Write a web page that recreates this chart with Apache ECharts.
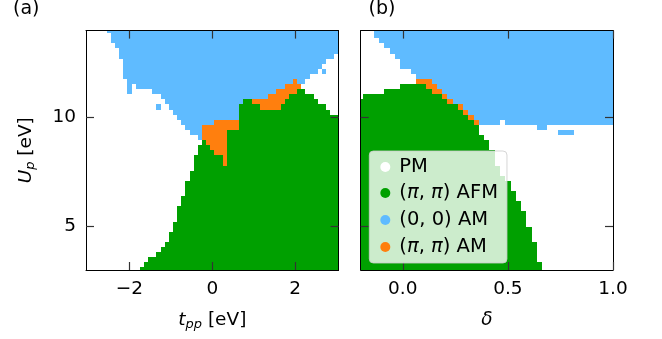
<!DOCTYPE html>
<html>
<head>
<meta charset="utf-8">
<script src="https://cdn.jsdelivr.net/npm/echarts@6/dist/echarts.min.js"></script>
<style>html,body{margin:0;padding:0;background:#fff}#c{width:662px;height:339px}</style>
</head>
<body>
<div id="c"></div>
<script>
// ---- grid definitions ----
const tppStart = -3.0, tppStep = 0.1;          // panel (a) columns: t_pp = -3.0 ... 3.0 (61)
const deltaStart = -0.2, deltaStep = 0.025;    // panel (b) columns: delta = -0.2 ... 1.0 (49)
const upStart = 3.0, upEnd = 14.0, upCount = 48; // rows: U_p from 3 to 14 (48 rows)

// ---- tick labels ----
const tppTicks = [-2, 0, 2];
const deltaTicks = [0, 0.5, 1.0];
const upTicks = [5, 10];

// ---- phases ----
const phaseKeys = ['W', 'G', 'B', 'O'];
const phaseNames = { W: 'PM', G: '(π, π) AFM', B: '(0, 0) AM', O: '(π, π) AM' };
const phaseColors = { W: '#ffffff', G: '#00a000', B: '#5fbbff', O: '#ff7f0e' };

// ---- phase maps: one string per U_p row, bottom (U_p=3) to top (U_p=14),
//      run-length encoded: phase letter + number of grid columns ----
const phaseA = [
  'W13 G48', 'W14 G47', 'W15 G46', 'W17 G44', 'W18 G43', 'W19 G42',
  'W20 G41', 'W20 G41', 'W21 G40', 'W21 G40', 'W22 G39', 'W22 G39',
  'W22 G39', 'W23 G38', 'W23 G38', 'W24 G37', 'W24 G37', 'W24 G37',
  'W25 G36', 'W25 G36', 'W26 G35',
  'W26 G7 O1 G27', 'W26 G7 O1 G27', 'W27 G4 O3 G27', 'W27 G3 O4 G27',
  'W28 G1 O5 G27', 'W27 B1 O6 G27', 'W25 B3 O6 G27', 'W24 B4 O9 G24',
  'W23 B8 O6 G24', 'W22 B15 G24', 'W21 B16 G22 W2',
  'W17 B1 W2 B17 G5 O5 G11 W3', 'W19 B19 G2 O8 G8 W5', 'W18 B26 O5 G6 W6',
  'W10 B1 W5 B30 O5 G2 W8', 'W10 B1 W1 B36 O4 W9', 'W10 B40 O1 B2 W8',
  'W9 B45 W7', 'W9 B47 W1 B1 W3', 'W9 B48 W4', 'W9 B49 W3', 'W8 B52 W1',
  'W8 B53', 'W7 B54', 'W6 B55', 'W6 B55', 'W5 B56'
];
const phaseB = [
  'G35 W14', 'G35 W14', 'G34 W15', 'G34 W15', 'G34 W15', 'G34 W15',
  'G33 W16', 'G33 W16', 'G33 W16', 'G32 W17', 'G32 W17', 'G32 W17',
  'G31 W18', 'G31 W18', 'G30 W19', 'G30 W19', 'G29 W20', 'G29 W20',
  'G28 W21', 'G27 W22', 'G27 W22', 'G26 W23', 'G26 W23', 'G26 W23',
  'G25 W24', 'G25 W24', 'G24 W25',
  'G23 W15 B3 W8', 'G23 W11 B2 W13', 'G22 O1 B4 W1 B21',
  'G21 O1 B27', 'G20 O1 B28', 'G19 O1 B29', 'G17 O1 B31',
  'W1 G15 O1 B32', 'W5 G9 O2 B33', 'W8 G5 O2 B34', 'W11 O3 B35',
  'W11 B38', 'W10 B39', 'W8 B41', 'W8 B41', 'W7 B42', 'W6 B43',
  'W5 B44', 'W4 B45', 'W3 B46', 'W3 B46'
];

const FONT = 'DejaVu Sans';
const upStep = (upEnd - upStart) / (upCount - 1);

function parseRows(rows, start, step) {
  const out = { W: [], G: [], B: [], O: [] };
  rows.forEach(function (row, k) {
    const u = upStart + upStep * k;
    let col = 0;
    row.split(' ').forEach(function (tok) {
      const ph = tok[0], n = parseInt(tok.slice(1), 10);
      out[ph].push([start + step * col, start + step * (col + n - 1), u]);
      col += n;
    });
  });
  return out;
}
const cellsA = parseRows(phaseA, tppStart, tppStep);
const cellsB = parseRows(phaseB, deltaStart, deltaStep);

function cellRenderer(step) {
  return function (params, api) {
    const cs = params.coordSys;
    const p = api.coord([api.value(0) - step / 2, api.value(2) + upStep / 2]);
    const q = api.coord([api.value(1) + step / 2, api.value(2) - upStep / 2]);
    let x0 = Math.max(Math.min(p[0], q[0]), cs.x);
    let x1 = Math.min(Math.max(p[0], q[0]), cs.x + cs.width);
    let y0 = Math.max(Math.min(p[1], q[1]), cs.y);
    let y1 = Math.min(Math.max(p[1], q[1]), cs.y + cs.height);
    x0 = Math.round(x0); x1 = Math.round(x1); y0 = Math.round(y0); y1 = Math.round(y1);
    if (x1 <= x0 || y1 <= y0) return null;
    return { type: 'rect', shape: { x: x0, y: y0, width: x1 - x0, height: y1 - y0 },
             style: { fill: api.visual('color') } };
  };
}

const series = [];
[[cellsA, 0, tppStep], [cellsB, 1, deltaStep]].forEach(function (cfg) {
  phaseKeys.forEach(function (ph) {
    series.push({
      type: 'custom', name: phaseNames[ph],
      xAxisIndex: cfg[1] * 2, yAxisIndex: cfg[1] * 2,
      data: cfg[0][ph], renderItem: cellRenderer(cfg[2]),
      encode: { x: [0, 1], y: 2 },
      itemStyle: { color: phaseColors[ph] },
      silent: true, z: 2
    });
  });
});

const tickStyle = { color: '#333', width: 1.2 };
const lineStyle = { color: '#000', width: 1 };
const labelBase = { color: '#000', fontSize: 18.5, fontFamily: FONT };
const nameRich = {
  i: { fontStyle: 'italic', fontSize: 18.5, fontFamily: FONT, lineHeight: 22, color: '#000' },
  s: { fontStyle: 'italic', fontSize: 13, fontFamily: FONT, lineHeight: 13, verticalAlign: 'bottom', color: '#000' }
};
const nameStyle = { color: '#000', fontSize: 18.5, fontFamily: FONT, lineHeight: 22, rich: nameRich };

function xAx(grid, pos, min, max, ticks, showLabel, fmt, name) {
  return {
    type: 'value', gridIndex: grid, position: pos, min: min, max: max, z: 10,
    splitLine: { show: false },
    axisLine: { show: true, onZero: false, lineStyle: lineStyle },
    axisTick: { show: true, inside: true, length: 8, customValues: ticks, lineStyle: tickStyle },
    axisLabel: Object.assign({ show: showLabel, margin: 10, customValues: ticks, formatter: fmt }, labelBase),
    name: name || '', nameLocation: 'middle', nameGap: 39, nameTextStyle: nameStyle
  };
}
function yAx(grid, pos, showLabel, name) {
  return {
    type: 'value', gridIndex: grid, position: pos, min: upStart, max: upEnd, z: 10,
    splitLine: { show: false },
    axisLine: { show: true, onZero: false, lineStyle: lineStyle },
    axisTick: { show: true, inside: true, length: 8, customValues: upTicks, lineStyle: tickStyle },
    axisLabel: Object.assign({ show: showLabel, margin: 10, customValues: upTicks }, labelBase),
    name: name || '', nameLocation: 'middle', nameRotate: 90, nameGap: 49, nameTextStyle: nameStyle
  };
}
const fmtT = function (v) { return v < 0 ? '\u2212' + (-v) : String(v); };
const fmtD = function (v) { return Number(v).toFixed(1); };

const option = {
  animation: false,
  backgroundColor: '#ffffff',
  grid: [
    { left: 86, top: 30.6, width: 252.6, height: 239.4 },
    { left: 360.7, top: 30.6, width: 252.3, height: 239.4 }
  ],
  xAxis: [
    xAx(0, 'bottom', tppStart - tppStep / 2, -tppStart + tppStep / 2, tppTicks, true, fmtT, '{i|t}{s|pp} [eV]'),
    xAx(0, 'top', tppStart - tppStep / 2, -tppStart + tppStep / 2, tppTicks, false, fmtT, ''),
    xAx(1, 'bottom', -0.2, 1.0, deltaTicks, true, fmtD, '{i|δ}'),
    xAx(1, 'top', -0.2, 1.0, deltaTicks, false, fmtD, '')
  ],
  yAxis: [
    yAx(0, 'left', true, '{i|U}{s|p} [eV]'),
    yAx(0, 'right', false, ''),
    yAx(1, 'left', false, ''),
    yAx(1, 'right', false, '')
  ],
  legend: {
    orient: 'vertical', left: 369.3, top: 151, z: 20,
    padding: [6, 9, 5, 11], itemGap: 5,
    itemWidth: 18, itemHeight: 10, icon: 'circle', selectedMode: false,
    backgroundColor: 'rgba(255,255,255,0.8)',
    borderColor: 'rgba(204,204,204,0.8)', borderWidth: 1, borderRadius: 4,
    formatter: function (n) { return n.replace(/π/g, '{i|π}'); },
    textStyle: {
      color: '#000', fontSize: 19.5, fontFamily: FONT, lineHeight: 22,
      rich: { i: { fontStyle: 'italic', fontSize: 19.5, fontFamily: FONT, lineHeight: 22, color: '#000' } }
    },
    data: phaseKeys.map(function (ph) {
      return ph === 'W' ? { name: phaseNames[ph], textStyle: { lineHeight: 16 } } : { name: phaseNames[ph] };
    })
  },
  graphic: [
    { type: 'text', x: 13, y: 9.5, style: { text: '(a)', fontSize: 19, fontFamily: FONT, fill: '#000', verticalAlign: 'middle' } },
    { type: 'text', x: 368.5, y: 9.5, style: { text: '(b)', fontSize: 19, fontFamily: FONT, fill: '#000', verticalAlign: 'middle' } }
  ],
  series: series
};

const chart = echarts.init(document.getElementById('c'), null, { renderer: 'canvas', width: 662, height: 339 });
chart.setOption(option);
</script>
</body>
</html>
